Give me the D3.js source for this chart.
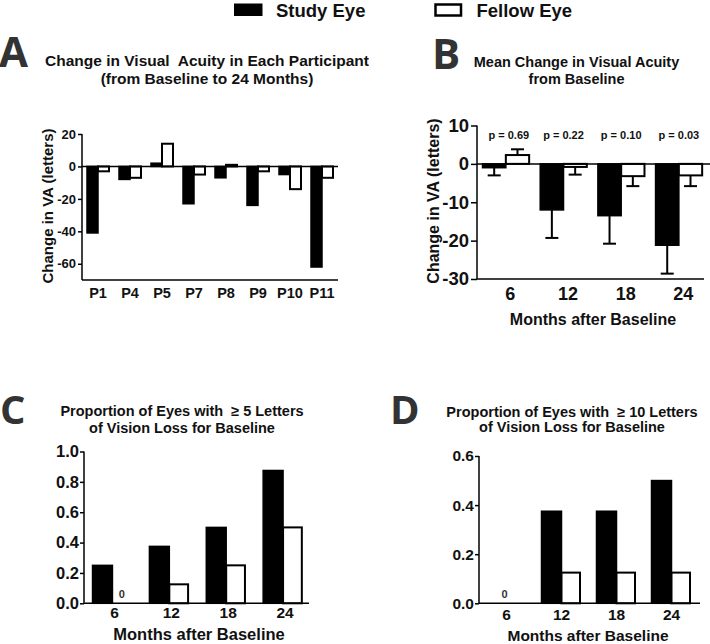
<!DOCTYPE html>
<html>
<head>
<meta charset="utf-8">
<script src="https://cdn.jsdelivr.net/npm/d3@7/dist/d3.min.js"></script>
<style>
  html, body { margin: 0; padding: 0; background: #fff; }
  svg text { font-family: "Liberation Sans", Arial, sans-serif; font-weight: bold; fill: #111; }
  .letter { font-family: "Open Sans", "DejaVu Sans", sans-serif !important; fill: #333 !important; }
</style>
</head>
<body>
<svg id="chart" width="710" height="644"></svg>
<script>
// ---------------- DATA ----------------
const participants = ["P1", "P4", "P5", "P7", "P8", "P9", "P10", "P11"];
const aStudy  = [-41, -8, 2, -23, -7, -24, -5, -62];
const aFellow = [-3, -7, 14, -5, 1, -3, -14, -7];
const aTicks  = [20, 0, -20, -40, -60];

const months = ["6", "12", "18", "24"];
const bStudy     = [-1, -12, -13.5, -21.2];
const bStudyErr  = [2, 7.3, 7.3, 7.4];
const bFellow    = [2.3, -0.8, -3.2, -3.0];
const bFellowErr = [1.5, 2, 2.6, 2.8];
const bTicks     = [10, 0, -10, -20, -30];
const pValues    = ["p = 0.69", "p = 0.22", "p = 0.10", "p = 0.03"];

const cStudy  = [0.25, 0.375, 0.5, 0.875];
const cFellow = [0, 0.125, 0.25, 0.5];
const cTicks  = [0, 0.2, 0.4, 0.6, 0.8, 1.0];

const dStudy  = [0, 0.375, 0.375, 0.5];
const dFellow = [0, 0.125, 0.125, 0.125];
const dTicks  = [0, 0.2, 0.4, 0.6];

const seriesNames = ["Study Eye", "Fellow Eye"];
// --------------------------------------

const svg = d3.select("#chart");

// Legend
const legend = svg.append("g");
legend.append("rect").attr("x", 234).attr("y", 3.5).attr("width", 28.5).attr("height", 12.5)
  .attr("fill", "#000");
legend.append("text").attr("x", 276).attr("y", 16.5).attr("font-size", 18.5).text(seriesNames[0]);
legend.append("rect").attr("x", 435.5).attr("y", 4.5).attr("width", 25.5).attr("height", 11)
  .attr("fill", "#fff").attr("stroke", "#000").attr("stroke-width", 2.5);
legend.append("text").attr("x", 476.5).attr("y", 16.5).attr("font-size", 18.5).text(seriesNames[1]);

function letter(t, x, y, size) {
  svg.append("text").attr("class", "letter").attr("x", x).attr("y", y)
    .attr("font-size", size).attr("font-weight", "bold").text(t);
}
function title(lines, cx, ys, size) {
  lines.forEach((l, i) => {
    svg.append("text").attr("x", cx).attr("y", ys[i]).attr("text-anchor", "middle")
      .attr("font-size", size).style("white-space", "pre").text(l);
  });
}

function panel(cfg) {
  const g = svg.append("g");
  const x = d3.scaleBand().domain(cfg.cats).range(cfg.xRange);
  const y = d3.scaleLinear().domain(cfg.yDomain).range(cfg.yRange);
  const bw = x.bandwidth();
  const w1 = bw * cfg.barFrac, w2 = bw * (cfg.barFrac2 || cfg.barFrac);

  const rows = cfg.cats.map((c, i) => ({ c, s: cfg.study[i], f: cfg.fellow[i], i }));
  const cx = d => x(d.c) + bw / 2;

  // error bars
  if (cfg.studyErr) {
    rows.forEach(d => {
      [[d.s, cfg.studyErr[d.i], cx(d) - w1 / 2], [d.f, cfg.fellowErr[d.i], cx(d) + w2 / 2]].forEach(([v, e, xc]) => {
        const end = v >= 0 ? v + e : v - e;
        g.append("line").attr("x1", xc).attr("x2", xc).attr("y1", y(v)).attr("y2", y(end))
          .attr("stroke", "#000").attr("stroke-width", 2);
        g.append("line").attr("x1", xc - 6.5).attr("x2", xc + 6.5).attr("y1", y(end)).attr("y2", y(end))
          .attr("stroke", "#000").attr("stroke-width", 2);
      });
    });
  }

  const base = cfg.base;
  g.selectAll(".s").data(rows.filter(d => d.s !== 0)).join("rect")
    .attr("x", d => cx(d) - w1).attr("width", w1)
    .attr("y", d => Math.min(y(d.s), y(base))).attr("height", d => Math.abs(y(d.s) - y(base)))
    .attr("fill", "#000").attr("stroke", "#000").attr("stroke-width", 1.5);
  g.selectAll(".f").data(rows.filter(d => d.f !== 0)).join("rect")
    .attr("x", d => cx(d)).attr("width", w2)
    .attr("y", d => Math.min(y(d.f), y(base))).attr("height", d => Math.abs(y(d.f) - y(base)))
    .attr("fill", "#fff").attr("stroke", "#000").attr("stroke-width", 2);

  // zero labels
  if (cfg.zeroLabels) {
    rows.forEach(d => {
      if (d.s === 0 && d.f === 0) {
        g.append("text").attr("x", cx(d) - 2).attr("y", y(0) - 5).attr("text-anchor", "middle")
          .attr("font-size", 11).style("fill", "#333").text("0");
      } else if (d.f === 0) {
        g.append("text").attr("x", cx(d) + w2 / 2).attr("y", y(0) - 5).attr("text-anchor", "middle")
          .attr("font-size", 11).style("fill", "#333").text("0");
      }
    });
  }

  // y axis
  const ya = g.append("g").attr("transform", `translate(${cfg.xRange[0]},0)`)
    .call(d3.axisLeft(y).tickValues(cfg.ticks).tickSize(cfg.tickSize).tickPadding(cfg.tickPad)
      .tickFormat(cfg.fmt || (d => d)));
  ya.select(".domain").attr("stroke-width", 1.5).attr("d", `M-0,${cfg.yRange[0]}V${cfg.yRange[1]}`);
  ya.selectAll(".tick line").attr("stroke-width", 1.5);
  ya.selectAll("text").attr("font-size", cfg.tickFont).style("font-family", "'Liberation Sans', Arial, sans-serif")
    .style("font-weight", "bold").attr("fill", "#111");

  // bottom axis line
  g.append("line").attr("x1", cfg.xRange[0]).attr("x2", cfg.xEnd).attr("y1", cfg.yRange[0]).attr("y2", cfg.yRange[0])
    .attr("stroke", "#000").attr("stroke-width", 1.5);
  // zero line
  if (cfg.zeroLineEnd) {
    g.append("line").attr("x1", cfg.xRange[0]).attr("x2", cfg.zeroLineEnd).attr("y1", y(0)).attr("y2", y(0))
      .attr("stroke", "#000").attr("stroke-width", 1.5);
  }
  // category labels
  g.selectAll(".cl").data(cfg.cats).join("text")
    .attr("x", d => x(d) + bw / 2 + (cfg.labelDx || 0)).attr("y", cfg.labelY)
    .attr("text-anchor", "middle").attr("font-size", cfg.labelFont).text(d => d);

  // p values
  if (cfg.pvals) {
    g.selectAll(".pv").data(cfg.cats).join("text")
      .attr("x", (d, i) => x(d) + bw / 2 + (i === 0 ? 3 : 0)).attr("y", cfg.pY)
      .attr("text-anchor", "middle").attr("font-size", 11).text((d, i) => cfg.pvals[i]);
  }

  // axis titles
  if (cfg.yTitle) {
    g.append("text").attr("transform", `translate(${cfg.yTitle.x},${cfg.yTitle.y}) rotate(-90)`)
      .attr("text-anchor", "middle").attr("dy", "0.35em").attr("font-size", cfg.yTitle.size).text(cfg.yTitle.text);
  }
  if (cfg.xTitle) {
    g.append("text").attr("x", cfg.xTitle.x).attr("y", cfg.xTitle.y).attr("text-anchor", "middle")
      .attr("font-size", cfg.xTitle.size).text(cfg.xTitle.text);
  }
}

// Panel A
letter("A", -1, 67, 42);
title(["Change in Visual  Acuity in Each Participant", "(from Baseline to 24 Months)"], 207, [66, 84], 15.5);
panel({
  cats: participants, study: aStudy, fellow: aFellow,
  xRange: [82, 338], xEnd: 338, yDomain: [-70, 20], yRange: [280, 134], base: 0,
  barFrac: 11 / 32, ticks: aTicks, tickSize: 4, tickPad: 2, tickFont: 13,
  zeroLineEnd: 338, labelY: 298, labelFont: 14.5,
  yTitle: { x: 48, y: 206, size: 15, text: "Change in VA (letters)" }
});

// Panel B
letter("B", 432, 69, 42);
title(["Mean Change in Visual Acuity", "from Baseline"], 576.5, [67, 84], 14.5);
panel({
  cats: months, study: bStudy, fellow: bFellow, studyErr: bStudyErr, fellowErr: bFellowErr,
  xRange: [477, 707.7], xEnd: 704, yDomain: [-30, 10], yRange: [279, 125.5], base: 0,
  barFrac: 0.404, ticks: bTicks, tickSize: 6, tickPad: 2, tickFont: 18.5,
  zeroLineEnd: 710, labelY: 300, labelFont: 18, labelDx: 4.5,
  pvals: pValues, pY: 139,
  yTitle: { x: 433, y: 201, size: 16, text: "Change in VA (letters)" },
  xTitle: { x: 593, y: 325, size: 16, text: "Months after Baseline" }
});

// Panel C
letter("C", 0, 424, 40);
title(["Proportion of Eyes with  \u2265 5 Letters", "of Vision Loss for Baseline"], 182, [416, 433], 14.5);
panel({
  cats: months, study: cStudy, fellow: cFellow,
  xRange: [84, 311.5], xEnd: 309, yDomain: [0, 1], yRange: [603.3, 451.5], base: 0,
  barFrac: 0.35, barFrac2: 0.33, ticks: cTicks, tickSize: 4, tickPad: 1, tickFont: 16.5, fmt: d3.format(".1f"),
  labelY: 618, labelFont: 15.5, labelDx: 2, zeroLabels: true,
  xTitle: { x: 199, y: 640, size: 16.5, text: "Months after Baseline" }
});

// Panel D
letter("D", 390, 424, 40);
title(["Proportion of Eyes with  \u2265 10 Letters", "of Vision Loss for Baseline"], 572, [417, 432], 14.5);
panel({
  cats: months, study: dStudy, fellow: dFellow,
  xRange: [479, 699], xEnd: 700, yDomain: [0, 0.6], yRange: [603.3, 456], base: 0,
  barFrac: 20 / 55, barFrac2: 18.5 / 55, ticks: dTicks, tickSize: 4, tickPad: 1, tickFont: 15.5, fmt: d3.format(".1f"),
  labelY: 620, labelFont: 15.5, zeroLabels: true,
  xTitle: { x: 588, y: 641, size: 15.5, text: "Months after Baseline" }
});
</script>
</body>
</html>
